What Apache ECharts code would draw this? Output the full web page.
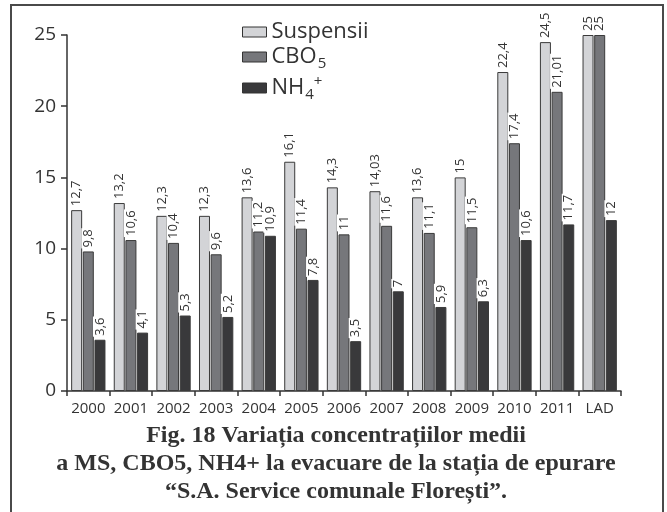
<!DOCTYPE html>
<html>
<head>
<meta charset="utf-8">
<script src="https://cdn.jsdelivr.net/npm/echarts@6/dist/echarts.min.js"></script>
<style>
  html, body { margin: 0; padding: 0; background: #fff; }
  #chart { width: 667px; height: 512px; }
</style>
</head>
<body>
<div id="chart"></div>
<script>
// Categories (years + admissible limit)
const categories = ['2000', '2001', '2002', '2003', '2004', '2005', '2006', '2007', '2008', '2009', '2010', '2011', 'LAD'];

// Average concentrations per year
const suspensii = [12.7, 13.2, 12.3, 12.3, 13.6, 16.1, 14.3, 14.03, 13.6, 15, 22.4, 24.5, 25];
const cbo5 = [9.8, 10.6, 10.4, 9.6, 11.2, 11.4, 11, 11.6, 11.1, 11.5, 17.4, 21.01, 25];
const nh4 = [3.6, 4.1, 5.3, 5.2, 10.9, 7.8, 3.5, 7, 5.9, 6.3, 10.6, 11.7, 12];

const seriesNames = ['Suspensii', 'CBO5', 'NH4+'];
const yTicks = [0, 5, 10, 15, 20, 25];

const captionLines = [
  'Fig. 18 Variația concentrațiilor medii',
  'a MS, CBO5, NH4+ la evacuare de la stația de epurare',
  '“S.A. Service comunale Florești”.'
];

const SANS = '"Open Sans", "Liberation Sans", sans-serif';
const colors = ['#d3d4d7', '#76777b', '#39393b'];

function valueLabel(p) {
  return String(p.value).replace('.', ',');
}

function makeSeries(name, data, color) {
  return {
    name: name,
    type: 'bar',
    data: data,
    barWidth: 11,
    barGap: '6%',
    itemStyle: { color: color, borderColor: '#3a3a3a', borderWidth: 1 },
    label: {
      show: true,
      position: 'top',
      rotate: 90,
      align: 'left',
      verticalAlign: 'middle',
      distance: 3,
      formatter: valueLabel,
      fontFamily: SANS,
      fontSize: 13,
      color: '#333',
      backgroundColor: '#fff',
      padding: [1, 1, 0, 1]
    }
  };
}

const chart = echarts.init(document.getElementById('chart'), null, { renderer: 'canvas' });

chart.setOption({
  animation: false,
  backgroundColor: '#fff',
  grid: { left: 67, right: 46, top: 35, bottom: 121, containLabel: false },
  legend: {
    orient: 'vertical',
    left: 237,
    top: 16,
    itemWidth: 24,
    itemHeight: 10,
    itemGap: 3,
    icon: 'rect',
    itemStyle: { borderColor: '#333', borderWidth: 1 },
    data: seriesNames,
    formatter: function (name) {
      if (name === 'CBO5') return '{n|CBO}{sub|5}';
      if (name === 'NH4+') return '{n|NH}{sub|4}{sup|+}';
      return '{n|' + name + '}';
    },
    textStyle: {
      rich: {
        n: { fontFamily: SANS, fontSize: 22, color: '#333', lineHeight: 28 },
        sub: { fontFamily: SANS, fontSize: 15, color: '#333', lineHeight: 28, verticalAlign: 'bottom', padding: [0, 0, 0, 1] },
        sup: { fontFamily: SANS, fontSize: 15, color: '#333', lineHeight: 28, verticalAlign: 'top' }
      }
    }
  },
  xAxis: {
    type: 'category',
    data: categories,
    boundaryGap: true,
    axisLine: { show: true, lineStyle: { color: '#333', width: 1.5 } },
    axisTick: { show: true, alignWithLabel: false, length: 5, lineStyle: { color: '#333', width: 1.5 } },
    axisLabel: { fontFamily: SANS, fontSize: 15, color: '#333', margin: 10, interval: 0 }
  },
  yAxis: {
    type: 'value',
    min: 0,
    max: 25,
    interval: 5,
    splitLine: { show: false },
    axisLine: { show: true, lineStyle: { color: '#333', width: 1.5 } },
    axisTick: { show: true, length: 6, lineStyle: { color: '#333', width: 1.5 } },
    axisLabel: {
      fontFamily: SANS,
      fontSize: 19,
      color: '#333',
      margin: 11,
      formatter: function (v) { return yTicks.indexOf(v) >= 0 ? String(v) : ''; }
    }
  },
  series: [
    makeSeries(seriesNames[0], suspensii, colors[0]),
    makeSeries(seriesNames[1], cbo5, colors[1]),
    makeSeries(seriesNames[2], nh4, colors[2])
  ],
  graphic: [
    {
      type: 'rect',
      silent: true,
      shape: { x: 11, y: 5, width: 652, height: 520 },
      style: { fill: 'none', stroke: '#4a4a4a', lineWidth: 2 }
    },
    {
      type: 'text',
      silent: true,
      x: 336,
      y: 422,
      style: {
        text: captionLines.join('\n'),
        font: 'bold 24px "Liberation Serif", serif',
        fill: '#333',
        align: 'center',
        lineHeight: 28
      }
    }
  ]
});
</script>
</body>
</html>
